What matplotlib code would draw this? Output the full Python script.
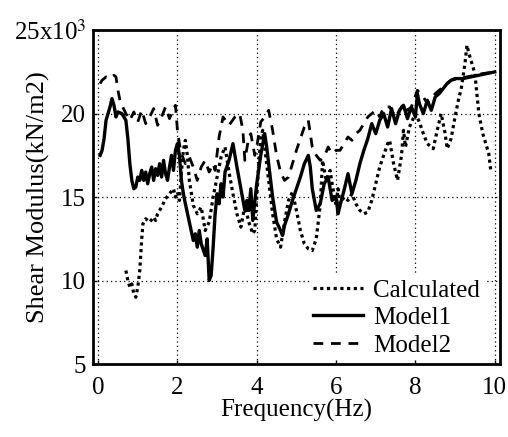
import matplotlib
matplotlib.use('Agg')
import matplotlib.pyplot as plt

plt.rcParams['font.family'] = ['Liberation Serif', 'DejaVu Serif']
plt.rcParams['mathtext.fontset'] = 'stix'

# 频率 (Hz) 与剪切模量 (x10^3 kN/m2)
calc_x = [0.7, 0.75, 0.8, 0.85, 0.9, 0.95, 1.0, 1.05, 1.1, 1.13, 1.2, 1.3, 1.4, 1.45, 1.5, 1.6, 1.7, 1.8,
          1.9, 1.95, 2.0, 2.05, 2.1, 2.15, 2.2, 2.25, 2.3, 2.4, 2.5, 2.6, 2.7, 2.8, 2.9, 3.0, 3.1, 3.2,
          3.3, 3.4, 3.5, 3.6, 3.7, 3.8, 3.9, 3.95, 4.0, 4.05, 4.1, 4.15, 4.2, 4.3, 4.4, 4.5, 4.6, 4.7,
          4.8, 4.9, 5.0, 5.1, 5.2, 5.3, 5.4, 5.5, 5.6, 5.66, 5.75, 5.85, 5.9, 6.0, 6.05, 6.1, 6.2, 6.3,
          6.4, 6.5, 6.6, 6.7, 6.8, 6.9, 7.0, 7.1, 7.2, 7.3, 7.35, 7.45, 7.55, 7.65, 7.7, 7.75, 7.85,
          8.0, 8.1, 8.2, 8.3, 8.45, 8.55, 8.65, 8.75, 8.8, 8.9, 9.0, 9.1, 9.15, 9.25, 9.3, 9.35, 9.4,
          9.5, 9.6, 9.7, 9.8, 9.85, 9.9]
calc_y = [10.6, 10.0, 9.6, 9.8, 9.2, 9.0, 9.6, 10.6, 12.5, 13.4, 13.7, 13.5, 13.8, 13.6, 14.0, 14.4, 14.9, 15.2,
          15.5, 15.0, 15.3, 14.8, 16.5, 17.8, 18.4, 17.5, 16.0, 14.5, 14.0, 14.4, 13.0, 13.5, 15.0, 16.2, 17.4, 18.0,
          16.5, 15.2, 14.0, 13.2, 14.5, 13.5, 12.8, 13.0, 15.0, 17.0, 18.5, 19.0, 18.0, 16.0, 14.0, 12.5, 12.0, 13.5,
          14.8, 15.3, 14.2, 13.0, 12.2, 11.9, 11.8, 12.5, 14.5, 17.2, 16.0, 16.6, 15.8, 14.5, 15.5, 14.6, 15.0, 14.8,
          15.2, 14.6, 14.2, 14.0, 14.1, 14.8, 15.8, 16.8, 17.5, 18.2, 18.4, 17.0, 16.0, 17.5, 19.0, 18.0, 19.2,
          20.0, 19.5, 18.8, 18.2, 17.9, 19.0, 20.0, 18.8, 17.9, 18.5, 19.8, 21.0, 21.4, 23.0, 24.1, 23.6, 23.2,
          22.4, 20.0, 18.8, 18.0, 17.6, 16.6]

m1_x = [0.05, 0.1, 0.15, 0.2, 0.3, 0.35, 0.4, 0.45, 0.5, 0.6, 0.7, 0.75, 0.8, 0.85, 0.9, 0.95, 1.0, 1.05,
        1.1, 1.15, 1.2, 1.25, 1.3, 1.35, 1.4, 1.45, 1.5, 1.55, 1.6, 1.65, 1.7, 1.75, 1.8, 1.85, 1.9, 1.95,
        2.0, 2.05, 2.1, 2.15, 2.2, 2.3, 2.4, 2.45, 2.5, 2.55, 2.6, 2.7, 2.75, 2.8, 2.85, 2.9, 2.95, 3.0,
        3.05, 3.1, 3.15, 3.2, 3.3, 3.4, 3.45, 3.5, 3.6, 3.7, 3.75, 3.8, 3.85, 3.9, 4.0, 4.1, 4.2, 4.25,
        4.3, 4.4, 4.5, 4.6, 4.65, 4.7, 4.8, 4.9, 5.0, 5.1, 5.2, 5.3, 5.35, 5.4, 5.5, 5.6, 5.7, 5.8, 5.85,
        5.9, 6.0, 6.05, 6.1, 6.2, 6.3, 6.4, 6.5, 6.6, 6.7, 6.8, 6.9, 7.0, 7.1, 7.2, 7.3, 7.4, 7.5, 7.6,
        7.7, 7.8, 7.9, 8.0, 8.05, 8.1, 8.2, 8.3, 8.4, 8.5, 8.6, 8.7, 8.8, 8.9, 9.0, 9.2, 9.4, 9.6, 9.8, 10.0]
m1_y = [17.5, 17.8, 18.5, 19.6, 20.4, 20.9, 20.5, 19.8, 20.1, 20.0, 19.6, 18.5, 17.0, 16.0, 15.5, 15.6, 16.2, 16.0,
        16.6, 16.0, 16.5, 15.8, 16.4, 16.8, 16.0, 16.7, 16.3, 17.0, 16.2, 17.2, 16.4, 16.0, 16.8, 17.5, 16.6, 17.8,
        18.2, 17.5, 16.0, 15.2, 14.6, 13.5, 12.4, 12.8, 12.0, 13.0, 12.2, 11.5, 12.5, 10.0, 10.3, 12.0, 14.0, 15.2,
        14.6, 15.8, 15.0, 16.5, 17.2, 18.2, 17.5, 16.8, 15.5, 14.2, 14.8, 14.2, 15.5, 13.6, 15.8, 17.5, 18.8, 18.0,
        17.0, 15.0, 13.5, 13.0, 12.7, 13.3, 14.0, 14.8, 15.5, 16.2, 17.0, 17.5, 16.8, 15.5, 14.2, 14.6, 15.8, 16.2, 15.5,
        14.8, 15.0, 14.0, 14.5, 15.4, 16.4, 15.2, 16.0, 17.0, 17.8, 18.5, 19.4, 18.8, 19.6, 20.0, 19.2, 20.3, 19.4, 20.2,
        20.5, 19.7, 20.4, 19.8, 21.2, 20.6, 20.0, 20.8, 20.2, 21.0, 21.2, 21.5, 21.8, 22.0, 22.1, 22.1, 22.2, 22.3, 22.4, 22.5]

m2_x = [0.05, 0.1, 0.2, 0.3, 0.4, 0.45, 0.5, 0.55, 0.6, 0.7, 0.8, 0.9, 1.0, 1.1, 1.2, 1.3, 1.4, 1.5, 1.6, 1.7,
        1.8, 1.9, 1.95, 2.0, 2.05, 2.1, 2.2, 2.3, 2.4, 2.5, 2.6, 2.7, 2.8, 2.9, 2.95, 3.05, 3.15, 3.3, 3.45,
        3.57, 3.65, 3.7, 3.8, 3.85, 3.95, 4.0, 4.1, 4.2, 4.3, 4.4, 4.5, 4.6, 4.7, 4.8, 4.9, 5.0, 5.1, 5.2,
        5.3, 5.4, 5.5, 5.6, 5.7, 5.8, 5.9, 6.0, 6.1, 6.2, 6.3, 6.4, 6.5, 6.6, 6.7, 6.8, 6.9, 7.0, 7.1, 7.2,
        7.35, 7.5, 7.6, 7.7, 7.8, 7.9, 8.05, 8.2, 8.3, 8.5, 8.7, 8.9, 9.1, 9.3, 9.5, 9.7, 10.0]
m2_y = [21.8, 22.0, 22.2, 22.1, 22.3, 22.2, 21.4, 20.8, 20.5, 20.0, 19.6, 20.1, 19.5, 20.2, 19.4, 19.8, 20.3, 19.3, 19.8, 20.4,
        19.7, 20.3, 20.5, 19.0, 18.2, 17.6, 17.0, 17.4, 16.8, 16.0, 16.8, 17.2, 16.5, 17.0, 16.6, 18.6, 19.8, 19.3, 19.8,
        20.0, 19.0, 17.2, 18.6, 18.8, 17.5, 18.0, 19.5, 19.8, 20.2, 19.0, 17.5, 16.5, 16.0, 16.2, 17.0, 17.8, 18.5, 19.2,
        19.6, 18.0, 17.5, 17.2, 17.4, 18.0, 17.6, 17.8, 17.8, 18.2, 18.6, 18.4, 18.8, 19.0, 19.4, 19.8, 20.0, 20.2, 19.8, 20.4,
        20.4, 19.8, 20.2, 20.6, 20.2, 20.4, 21.4, 21.0, 20.6, 21.2, 21.6, 22.0, 22.1, 22.2, 22.3, 22.4, 22.5]

fig = plt.figure(figsize=(5.08, 4.37), dpi=100)
ax = fig.add_axes([0.183, 0.167, 0.801, 0.764])

ax.plot(calc_x, calc_y, color='black', linestyle=(0, (1, 1.1)), linewidth=2.3, label='Calculated')
ax.plot(m1_x, m1_y, color='black', linestyle='-', linewidth=2.4, label='Model1')
ax.plot(m2_x, m2_y, color='black', linestyle=(0, (3.5, 2.8)), linewidth=2.0, label='Model2')

ax.set_xlim(-0.13, 10.13)
ax.set_ylim(5, 25)
ax.set_xticks([0, 2, 4, 6, 8, 10])
ax.set_yticks([5, 10, 15, 20, 25])
ax.set_yticklabels(['5', '10', '15', '20', '25x10$^{3}$'])
ax.tick_params(direction='in', length=3, width=1, labelsize=18)
ax.tick_params(axis='x', pad=9)
ax.tick_params(axis='y', pad=5)
ax.grid(True, linestyle=(0, (1, 2.5)), color='black', linewidth=0.9)
for s in ax.spines.values():
    s.set_linewidth(2)

ax.set_xlabel('Frequency(Hz)', fontsize=18)
ax.set_ylabel('Shear Modulus(kN/m2)', fontsize=19)
ax.yaxis.set_label_coords(-0.105, 0.5)
ax.xaxis.set_label_coords(0.5, -0.105)

leg = ax.legend(loc='lower right', bbox_to_anchor=(0.97, 0.0), frameon=True, fontsize=18,
                handlelength=2.0, borderpad=0.15, labelspacing=0.2, handletextpad=0.4,
                borderaxespad=0.15)
leg.get_frame().set_edgecolor('none')
leg.get_frame().set_alpha(1)

fig.savefig('out.png', dpi=100)
